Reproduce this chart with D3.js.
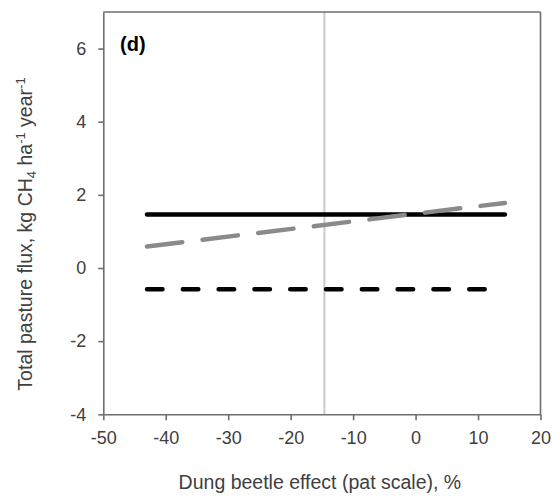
<!DOCTYPE html>
<html>
<head>
<meta charset="utf-8">
<script src="https://cdn.jsdelivr.net/npm/d3@7"></script>
<style>
  html, body { margin: 0; padding: 0; background: #fff; }
  svg { display: block; font-family: "Liberation Sans", Arial, sans-serif; }
</style>
</head>
<body>
<svg id="chart" width="553" height="497"></svg>
<script>
// ---- data ----
const xTicks = [-50, -40, -30, -20, -10, 0, 10, 20];
const yTicks = [-4, -2, 0, 2, 4, 6];
const xDomain = [-50, 20];
const yDomain = [-4, 7];

const solidX = [-43, 14.3];
const solidY = [1.46, 1.46];

const grayDashX = [-43, 14.3];
const grayDashY = [0.59, 1.78];

const blackDashX = [-43, 11.1];
const blackDashY = [-0.58, -0.58];

const refLineX = -14.6;

const panelLabel = "(d)";
const xTitle = "Dung beetle effect (pat scale), %";

// ---- layout ----
const svg = d3.select("#chart");
const plotLeft = 103.3, plotRight = 540.5, plotTop = 12, plotBottom = 414.3;
const x = d3.scaleLinear().domain(xDomain).range([plotLeft, plotRight]);
const y = d3.scaleLinear().domain(yDomain).range([plotBottom, plotTop]);
const axisColor = "#6e6e6e";
const textColor = "#404040";

// reference vertical line
svg.append("line")
  .attr("x1", x(refLineX)).attr("x2", x(refLineX))
  .attr("y1", y(yDomain[1])).attr("y2", y(yDomain[0]))
  .attr("stroke", "#cacaca").attr("stroke-width", 2);

const line = d3.line().x(d => x(d[0])).y(d => y(d[1]));
const zip = (a, b) => a.map((v, i) => [v, b[i]]);

// black solid
svg.append("path").datum(zip(solidX, solidY))
  .attr("d", line).attr("fill", "none")
  .attr("stroke", "#000").attr("stroke-width", 4.5)
  .attr("stroke-linecap", "round");

// gray dashed
svg.append("path").datum(zip(grayDashX, grayDashY))
  .attr("d", line).attr("fill", "none")
  .attr("stroke", "#8a8a8a").attr("stroke-width", 4.5)
  .attr("stroke-linecap", "round")
  .attr("stroke-dasharray", "35.5,20.5");

// black dashed
svg.append("path").datum(zip(blackDashX, blackDashY))
  .attr("d", line).attr("fill", "none")
  .attr("stroke", "#000").attr("stroke-width", 4.5)
  .attr("stroke-linecap", "round")
  .attr("stroke-dasharray", "15.5,20.3");

// frame top and right
svg.append("line").attr("x1", plotLeft).attr("x2", plotRight).attr("y1", plotTop).attr("y2", plotTop)
  .attr("stroke", axisColor).attr("stroke-width", 1.6);
svg.append("line").attr("x1", plotRight).attr("x2", plotRight).attr("y1", plotTop).attr("y2", plotBottom)
  .attr("stroke", axisColor).attr("stroke-width", 1.6);

// x axis
const gx = svg.append("g").attr("transform", `translate(0,${plotBottom})`)
  .call(d3.axisBottom(x).tickValues(xTicks).tickSize(6).tickSizeOuter(0).tickPadding(10.5)
        .tickFormat(d3.format("d")));
// y axis
const gy = svg.append("g").attr("transform", `translate(${plotLeft},0)`)
  .call(d3.axisLeft(y).tickValues(yTicks).tickSize(5).tickSizeOuter(0).tickPadding(12)
        .tickFormat(d3.format("d")));

[gx, gy].forEach(g => {
  g.select(".domain").attr("stroke", axisColor).attr("stroke-width", 1.6);
  g.selectAll(".tick line").attr("stroke", axisColor).attr("stroke-width", 1.6);
  g.selectAll(".tick text").attr("fill", textColor)
    .style("font-size", "18px").style("font-family", "'Liberation Sans', Arial, sans-serif");
});
// use a normal hyphen-minus like the original
gx.selectAll(".tick text").text(d => String(d));
gy.selectAll(".tick text").text(d => String(d));

// panel label
svg.append("text").attr("x", 120).attr("y", 51)
  .attr("fill", "#000").style("font-size", "20px").style("font-weight", "bold")
  .text(panelLabel);

// x title
svg.append("text").attr("x", (plotLeft + plotRight) / 2 - 2).attr("y", 489)
  .attr("text-anchor", "middle").attr("fill", textColor)
  .style("font-size", "19.5px").text(xTitle);

// y title
const yt = svg.append("text")
  .attr("transform", "translate(32,234) rotate(-90)")
  .attr("text-anchor", "middle").attr("fill", textColor)
  .style("font-size", "19.5px");
yt.append("tspan").text("Total pasture flux, kg CH");
yt.append("tspan").attr("dy", 4).style("font-size", "13px").text("4");
yt.append("tspan").attr("dy", -4).text(" ha");
yt.append("tspan").attr("dy", -7).style("font-size", "13px").text("-1");
yt.append("tspan").attr("dy", 7).text(" year");
yt.append("tspan").attr("dy", -7).style("font-size", "13px").text("-1");
</script>
</body>
</html>
